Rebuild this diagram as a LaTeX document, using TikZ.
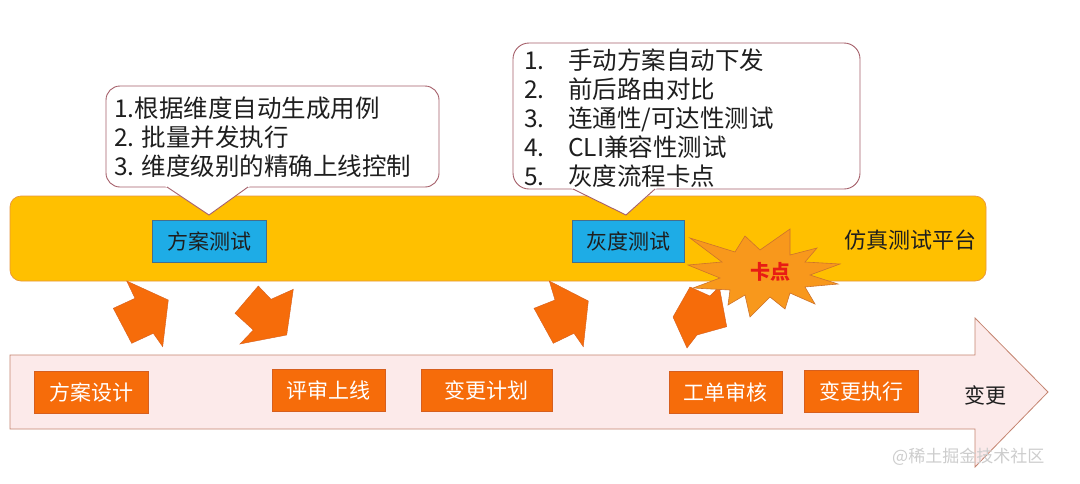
\documentclass[tikz,border=0pt]{standalone}
\usepackage{fontspec}
\setmainfont{Noto Sans CJK SC}
\definecolor{bandY}{RGB}{255,192,0}
\definecolor{bandB}{RGB}{232,150,60}
\definecolor{blueF}{RGB}{30,172,230}
\definecolor{blueB}{RGB}{70,110,140}
\definecolor{orgF}{RGB}{246,108,10}
\definecolor{orgB}{RGB}{214,95,30}
\definecolor{burstF}{RGB}{248,152,28}
\definecolor{burstB}{RGB}{205,115,45}
\definecolor{redT}{RGB}{232,28,20}
\definecolor{pinkF}{RGB}{252,234,234}
\definecolor{pinkB}{RGB}{196,132,112}
\definecolor{callB}{RGB}{165,95,105}
\definecolor{txt}{RGB}{30,30,30}
\definecolor{wm}{RGB}{205,205,205}
\tikzset{
  callout/.style={draw=callB, line width=0.9pt, fill=white},
  bluebox/.style={draw=blueB, line width=0.6pt, fill=blueF, minimum width=114pt, minimum height=42pt, inner sep=0pt, text=txt, font=\fontsize{21}{24}\selectfont},
  obox/.style={draw=orgB, line width=0.6pt, fill=orgF, minimum height=42pt, inner sep=0pt, text=white, font=\fontsize{21}{24}\selectfont},
  farrow/.style={fill=orgF, draw=orgB, line width=0.4pt, line join=miter},
  listtxt/.style={align=left, anchor=west, inner sep=0pt, text=txt, font=\fontsize{24.5}{29}\selectfont},
}
\begin{document}
\begin{tikzpicture}[x=1pt,y=-1pt]
\useasboundingbox (0,0) rectangle (1080,483);
\fill[white] (0,0) rectangle (1080,483);

% bottom big arrow
\draw[fill=pinkF, draw=pinkB, line width=0.8pt, line join=miter]
  (10,355) -- (975,355) -- (975,318) -- (1048,392) -- (975,467) -- (975,429) -- (10,429) -- cycle;

% yellow band
\draw[fill=bandY, draw=bandB, line width=0.7pt, rounded corners=11pt] (10,196) rectangle (986,281);

% block arrows
\draw[farrow] (168.3,300) -- (126.7,281) -- (135,298.3) -- (113.3,308.3) -- (131.7,343.3) -- (153.3,333.3) -- (162.7,346.7) -- cycle;
\draw[farrow] (258.3,286) -- (271,299.3) -- (293.3,289.3) -- (286.7,335) -- (240,344) -- (253.3,330) -- (235,313.3) -- cycle;
\draw[farrow] (588.3,301) -- (549.3,281) -- (555,300) -- (534,308.3) -- (553.3,343.3) -- (574,333.3) -- (583.3,346.7) -- cycle;
\draw[farrow] (690,287) -- (710,296) -- (719.3,286.7) -- (726.7,326.7) -- (697,335) -- (687,348) -- (673,317) -- cycle;

% starburst
\draw[fill=burstF, draw=burstB, line width=0.6pt, line join=miter]
  (690,238) -- (735,252) -- (745,236) -- (760,250) -- (790,229) -- (790,255) -- (817,248) -- (805,262)
  -- (840,264) -- (810,275) -- (838,284) -- (805,287) -- (815,304) -- (790,293) -- (785,309) -- (770,297)
  -- (750,317) -- (745,295) -- (728,305) -- (730,290) -- (693,288) -- (720,278) -- (688,265) -- (722,262) -- cycle;
\node[text=redT, font=\fontsize{20}{24}\selectfont\bfseries] (kadian) at (770,272) {卡点};

% callout 1
\draw[callout, rounded corners=14pt] (106,86) rectangle (439,187);
\fill[white] (165,186) -- (209,215) -- (250,186) -- cycle;
\draw[draw=callB, line width=0.9pt] (167,187) -- (209,215) -- (248,187);
\node[listtxt] (list1) at (114,137) {1.根据维度自动生成用例\\2. 批量并发执行\\3. 维度级别的精确上线控制};

% callout 2
\draw[callout, rounded corners=16pt] (513,43) rectangle (860,189);
\fill[white] (571,188) -- (626,215) -- (657,188) -- cycle;
\draw[draw=callB, line width=0.9pt] (573,189) -- (626,215) -- (655,189);
\node[listtxt] (list2) at (524,118) {\makebox[44pt][l]{1.}手动方案自动下发\\\makebox[44pt][l]{2.}前后路由对比\\\makebox[44pt][l]{3.}连通性/可达性测试\\\makebox[44pt][l]{4.}CLI兼容性测试\\\makebox[44pt][l]{5.}灰度流程卡点};

% band nodes
\node[bluebox] (fangan) at (209,241) {方案测试};
\node[bluebox, minimum width=112pt] (huidu) at (628,241) {灰度测试};
\node[text=txt, font=\fontsize{22}{26}\selectfont] (platform) at (910,240) {仿真测试平台};

% bottom process boxes
\node[obox, minimum width=114pt] (sheji) at (91,392) {方案设计};
\node[obox, minimum width=113pt] (pingshen) at (328.5,390.5) {评审上线};
\node[obox, minimum width=131pt] (jihua) at (486.5,390) {变更计划};
\node[obox, minimum width=113pt] (shenhe) at (725.5,392.5) {工单审核};
\node[obox, minimum width=114pt] (zhixing) at (861,391.5) {变更执行};
\node[text=txt, font=\fontsize{21}{24}\selectfont] (biangeng) at (985,395) {变更};

% watermark
\node[text=wm, font=\fontsize{17}{20}\selectfont, anchor=west, inner sep=0pt] (wmark) at (892,457) {@稀土掘金技术社区};
\end{tikzpicture}
\end{document}
